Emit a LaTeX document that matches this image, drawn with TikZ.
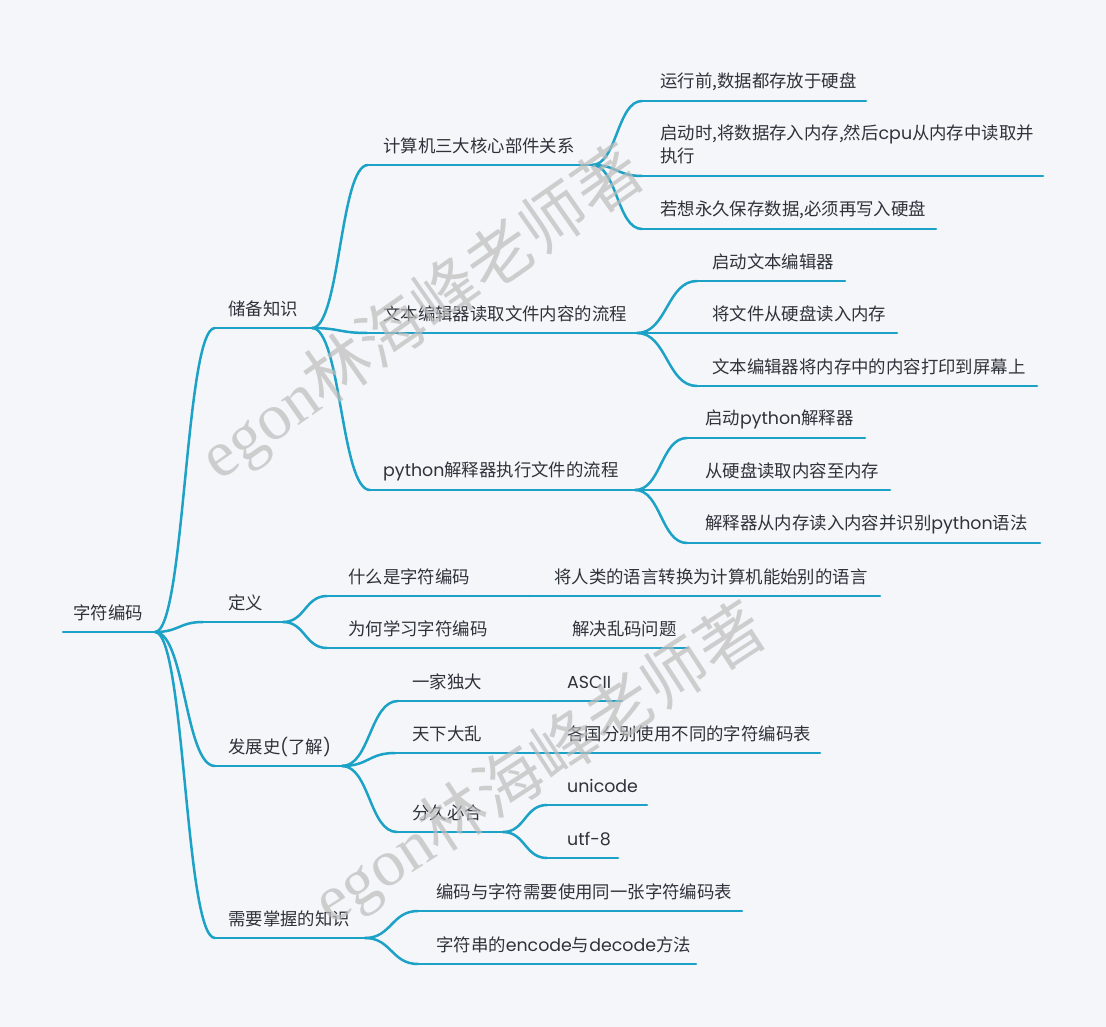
\documentclass[tikz,border=0pt]{standalone}
\usepackage{fontspec}
\setmainfont{Noto Sans CJK SC}
\newfontfamily\lat{Poppins}
\newfontfamily\wmserif{Liberation Serif}
\usetikzlibrary{calc}
\definecolor{bgc}{HTML}{F5F6F9}
\definecolor{teal1}{HTML}{1BA2C6}
\definecolor{txt}{HTML}{2E323A}
\definecolor{wmc}{HTML}{BDBDBD}
\tikzset{
  br/.style={draw=teal1, line width=2.5pt, line cap=round},
  lbl/.style={anchor=west, inner sep=0pt, text=txt, font=\fontsize{17.4}{23}\selectfont},
  wm/.style={inner sep=0pt, text=wmc, opacity=0.7, font=\fontsize{66}{72}\selectfont}
}
\newcommand\mmtopic[6]{%
  \coordinate (#1L) at (#4,#3);
  \coordinate (#1R) at (#5,#3);
  \node[lbl] (#1) at (#2,#3-19) {#6};
  \draw[br] (#1L) -- (#1R);
}
\newcommand\conn[2]{%
  \draw[br] let \p1=(#1R), \p2=(#2L) in
    (\p1) .. controls ({(\x1+\x2)/2},\y1) and ({(\x1+\x2)/2},\y2) .. (\p2);
}
\begin{document}
\begin{tikzpicture}[x=1pt,y=-1pt]
\fill[bgc] (0,0) rectangle (1106,1027);
\useasboundingbox (0,0) rectangle (1106,1027);

% root
\mmtopic{r}{73}{632}{63}{155}{字符编码}

% 储备知识
\mmtopic{a}{228}{328}{215}{312}{储备知识}
\mmtopic{aa}{383}{165}{368}{592}{计算机三大核心部件关系}
\mmtopic{aaa}{660}{101}{642}{866}{运行前,数据都存放于硬盘}
\coordinate (aabL) at (642,176);
\coordinate (aabR) at (1043,176);
\node[lbl, align=left] (aab) at (660,144.5) {启动时,将数据存入内存,然后{\lat cpu}从内存中读取并\\执行};
\draw[br] (aabL) -- (aabR);
\mmtopic{aac}{660}{229}{642}{936}{若想永久保存数据,必须再写入硬盘}
\mmtopic{ab}{383}{333}{367}{637}{文本编辑器读取文件内容的流程}
\mmtopic{aba}{712}{281}{697}{845}{启动文本编辑器}
\mmtopic{abb}{712}{333}{697}{897}{将文件从硬盘读入内存}
\mmtopic{abc}{712}{386}{697}{1037}{文本编辑器将内存中的内容打印到屏幕上}
\mmtopic{ac}{383}{490}{370}{635}{{\lat python}解释器执行文件的流程}
\mmtopic{aca}{705}{438}{687}{865}{启动{\lat python}解释器}
\mmtopic{acb}{705}{490}{687}{890}{从硬盘读取内容至内存}
\mmtopic{acc}{705}{543}{687}{1040}{解释器从内存读入内容并识别{\lat python}语法}

% 定义
\mmtopic{b}{228}{622}{203}{283}{定义}
\mmtopic{ba}{348}{596}{327}{530}{什么是字符编码}
\mmtopic{baa}{554}{596}{530}{880}{将人类的语言转换为计算机能始别的语言}
\mmtopic{bb}{348}{648}{327}{555}{为何学习字符编码}
\mmtopic{bba}{572}{648}{555}{688}{解决乱码问题}

% 发展史
\mmtopic{c}{228}{766}{215}{342}{发展史{\lat (}了解{\lat )}}
\mmtopic{ca}{412}{701}{398}{550}{一家独大}
\mmtopic{caa}{567}{701}{550}{622}{\lat ASCII}
\mmtopic{cb}{412}{753}{395}{550}{天下大乱}
\mmtopic{cba}{567}{753}{550}{820}{各国分别使用不同的字符编码表}
\mmtopic{cc}{412}{832}{397}{503}{分久必合}
\mmtopic{cca}{567}{805}{547}{647}{\lat unicode}
\mmtopic{ccb}{567}{858}{547}{618}{\lat utf-8}

% 需要掌握的知识
\mmtopic{d}{228}{938}{215}{365}{需要掌握的知识}
\mmtopic{da}{436}{911}{418}{742}{编码与字符需要使用同一张字符编码表}
\mmtopic{db}{436}{964}{418}{696}{字符串的{\lat encode}与{\lat decode}方法}

% connectors
\conn{r}{a}\conn{r}{b}\conn{r}{c}\conn{r}{d}
\conn{a}{aa}\conn{a}{ab}\conn{a}{ac}
\conn{aa}{aaa}\conn{aa}{aab}\conn{aa}{aac}
\conn{ab}{aba}\conn{ab}{abb}\conn{ab}{abc}
\conn{ac}{aca}\conn{ac}{acb}\conn{ac}{acc}
\conn{b}{ba}\conn{b}{bb}\conn{ba}{baa}\conn{bb}{bba}
\conn{c}{ca}\conn{c}{cb}\conn{c}{cc}
\conn{ca}{caa}\conn{cb}{cba}\conn{cc}{cca}\conn{cc}{ccb}
\conn{d}{da}\conn{d}{db}

% watermarks
\node[wm, rotate=35] (wm1) at (422,314) {{\wmserif egon}林海峰老师著};
\node[wm, rotate=33] (wm2) at (540,765) {{\wmserif egon}林海峰老师著};
\end{tikzpicture}
\end{document}
